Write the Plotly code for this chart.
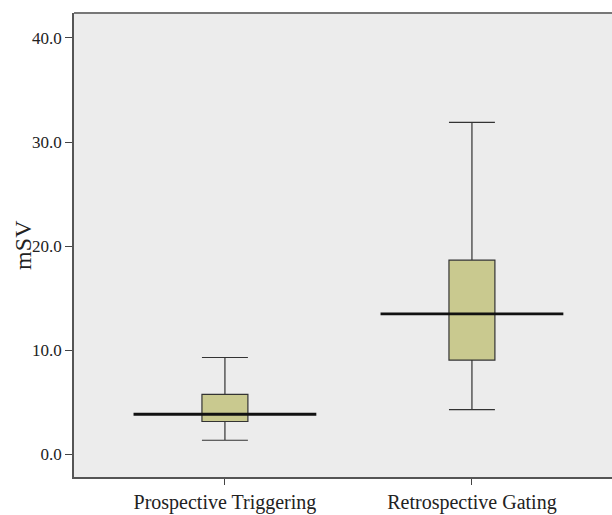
import plotly.graph_objects as go

categories = ["Prospective Triggering", "Retrospective Gating"]
lower_whisker = [1.35, 4.3]
q1 = [3.15, 9.05]
median = [3.85, 13.5]
q3 = [5.75, 18.65]
upper_whisker = [9.3, 31.9]
y_ticks = [0, 10, 20, 30, 40]
y_tick_labels = ["0.0", "10.0", "20.0", "30.0", "40.0"]
y_title = "mSV"

positions = list(range(len(categories)))
fill = "#c9c98f"
edge = "#333333"
font_family = "Liberation Serif, Times New Roman, serif"

fig = go.Figure()
fig.add_trace(go.Box(
    x=positions,
    q1=q1, median=median, q3=q3,
    lowerfence=lower_whisker, upperfence=upper_whisker,
    width=0.186,
    whiskerwidth=1,
    fillcolor=fill,
    line=dict(color=edge, width=1.2),
    boxpoints=False,
    showlegend=False,
    hoverinfo="skip",
))

# long median reference lines
half = 0.37
for p, m in zip(positions, median):
    fig.add_trace(go.Scatter(
        x=[p - half, p + half], y=[m, m], mode="lines",
        line=dict(color="#111111", width=2.8),
        showlegend=False, hoverinfo="skip",
    ))

fig.update_layout(
    width=612, height=515,
    margin=dict(l=74, r=0, t=13, b=38),
    paper_bgcolor="white",
    plot_bgcolor="#ececec",
    font=dict(family=font_family, color="#222222"),
    xaxis=dict(
        range=[-0.611, 1.567],
        tickvals=positions, ticktext=categories,
        ticks="outside", ticklen=6, tickcolor="#444444", tickwidth=1,
        tickfont=dict(size=20, family=font_family, color="#222222"),
        showgrid=False, zeroline=False,
        showline=True, linecolor="#555555", linewidth=1.5,
    ),
    yaxis=dict(
        range=[-2.18, 42.4],
        tickvals=y_ticks, ticktext=y_tick_labels,
        ticks="outside", ticklen=7, tickcolor="#444444", tickwidth=1,
        tickfont=dict(size=17, family=font_family, color="#222222"),
        showgrid=False, zeroline=False,
        showline=True, linecolor="#555555", linewidth=1.5,
    ),
)
fig.add_annotation(
    text=y_title, xref="paper", yref="paper", x=-0.095, y=0.5,
    xanchor="center", yanchor="middle", textangle=-90, showarrow=False,
    font=dict(size=24, family=font_family, color="#222222"),
)
fig.add_shape(type="line", xref="paper", yref="paper", x0=0, x1=1, y0=1, y1=1,
              line=dict(color="#777777", width=2))

fig.write_html(
    "out.html",
    config={"displayModeBar": False},
    post_script="document.body.style.margin='0';document.documentElement.style.overflow='hidden';",
)
